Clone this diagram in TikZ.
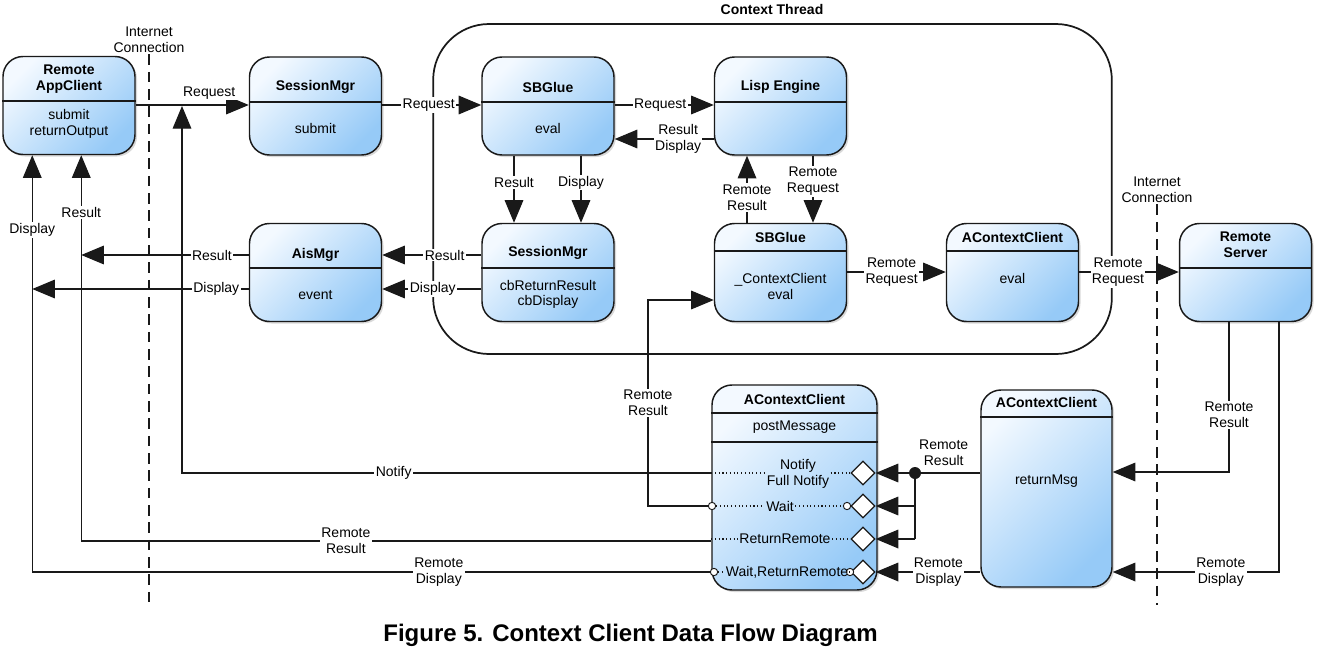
\documentclass[tikz,border=0pt]{standalone}
\usepackage{fontspec}
\setmainfont{Liberation Sans}
\usetikzlibrary{shapes.geometric, arrows.meta, positioning, calc, shadows}
\definecolor{boxlight}{RGB}{243,249,255}
\definecolor{boxdark}{RGB}{150,202,247}
\definecolor{edge}{RGB}{25,25,25}

\begin{document}
\begin{tikzpicture}[
  x=0.75pt, y=-0.75pt,
  block/.style={rectangle, draw=edge, line width=1.1pt, rounded corners=15pt, inner sep=0pt,
    minimum width=99pt, minimum height=73.5pt,
    top color=boxlight, bottom color=boxdark, shading angle=45,
    drop shadow={shadow xshift=1.5pt, shadow yshift=-1.5pt, opacity=0.3}},
  thread/.style={rectangle, draw=edge, line width=1.3pt, rounded corners=42pt,
    minimum width=509pt, minimum height=247.5pt, inner sep=0pt},
  title/.style={font=\fontsize{10.5}{12}\selectfont\bfseries, align=center, inner sep=0pt},
  body/.style={font=\fontsize{10.5}{11.5}\selectfont, align=center, inner sep=0pt},
  lbl/.style={font=\fontsize{10.5}{12}\selectfont, align=center, fill=white, inner sep=1pt},
  rowlbl/.style={font=\fontsize{10.5}{12}\selectfont, align=center, inner sep=1pt},
  netlbl/.style={font=\fontsize{10.5}{12}\selectfont, align=center, inner sep=1pt},
  caption/.style={font=\fontsize{18}{21}\selectfont\bfseries, inner sep=0pt},
  arrow/.style={draw=edge, line width=0.9pt, -{Triangle[length=17pt, width=14pt]}},
  line/.style={draw=edge, line width=0.9pt},
  divider/.style={draw=edge, line width=0.9pt},
  rowline/.style={draw=edge, line width=0.8pt, dash pattern=on 0.8pt off 2pt},
  netline/.style={draw=edge, line width=2pt, dash pattern=on 8pt off 5pt},
  gate/.style={diamond, draw=edge, fill=white, line width=1pt, minimum width=18pt, minimum height=18pt, inner sep=0pt},
  port/.style={circle, draw=edge, fill=white, line width=0.7pt, minimum size=5.5pt, inner sep=0pt},
  joint/.style={circle, fill=edge, minimum size=9pt, inner sep=0pt}
]
\useasboundingbox (0,0) rectangle (1320,650);

% context thread frame
\node[thread] (ctx) at (772.5,189) {};
\node[title] (ctxT) at (772,9) {Context Thread};

% internet connections
\node[netlbl] (net1) at (149,40) {Internet\\Connection};
\coordinate (net1end) at (149,605);
\draw[netline] (net1.south) -- (net1end);
\node[netlbl] (net2) at (1157,190) {Internet\\Connection};
\coordinate (net2end) at (1157,605);
\draw[netline] (net2.south) -- (net2end);

% boxes
\node[block] (app) at (69,105.5) {};
\node[block] (ses1) at (315.5,106) {};
\node[block] (sbg1) at (548,106) {};
\node[block] (lisp) at (780.5,106) {};
\node[block] (ais) at (315.5,272.5) {};
\node[block] (ses2) at (548,272.5) {};
\node[block] (sbg2) at (780.5,272.5) {};
\node[block] (acc1) at (1012.5,272.5) {};
\node[block] (server) at (1245.5,272.5) {};
\node[block, minimum width=123.75pt, minimum height=153.75pt] (post) at (794.5,487.5) {};
\node[block, minimum width=98.25pt, minimum height=147.75pt] (ret) at (1046.5,488.5) {};

\foreach \b/\y in {app/101, ses1/102, sbg1/102, lisp/102, ais/268, ses2/268, sbg2/251,
                   acc1/251, server/268, post/413, post/442, ret/417}
  \draw[divider] (\b.west |- 0,\y) -- (\b.east |- 0,\y);

\node[title] (appT) at (69,79) {Remote\\AppClient};
\node[body] (appB) at (69,124) {submit\\returnOutput};
\node[title] (ses1T) at (315.5,87) {SessionMgr};
\node[body] (ses1B) at (315.5,128) {submit};
\node[title] (sbg1T) at (548,87) {SBGlue};
\node[body] (sbg1B) at (548,128) {eval};
\node[title] (lispT) at (780.5,87) {Lisp Engine};
\node[title] (aisT) at (315.5,255) {AisMgr};
\node[body] (aisB) at (315.5,295) {event};
\node[title] (ses2T) at (548,253) {SessionMgr};
\node[body] (ses2B) at (548,294.5) {cbReturnResult\\cbDisplay};
\node[title] (sbg2T) at (780.5,237) {SBGlue};
\node[body] (sbg2B) at (780.5,286.5) {\_ContextClient\\eval};
\node[title] (acc1T) at (1012.5,237) {AContextClient};
\node[body] (acc1B) at (1012.5,278) {eval};
\node[title] (serverT) at (1245.5,245) {Remote\\Server};
\node[title] (postT) at (794.5,399) {AContextClient};
\node[body] (postB) at (794.5,427) {postMessage};
\node[title] (retT) at (1046.5,402) {AContextClient};
\node[body] (retB) at (1046.5,481) {returnMsg};

% postMessage rows
\foreach \g/\y in {d1/473, d2/506, d3/539, d4/572}
  \node[gate] (\g) at (863,\y) {};
\node[port] (pw) at (712,506) {};
\node[port] (pw2) at (847,506) {};
\node[port] (pwr) at (714,572) {};
\node[port] (pwr2) at (850,572) {};
\node[rowlbl] (tnot) at (798,474) {Notify\\Full Notify};
\node[rowlbl] (twait) at (780,506) {Wait};
\node[rowlbl] (tret) at (785,539) {ReturnRemote};
\node[rowlbl] (twr) at (787,572) {Wait,ReturnRemote};
\draw[rowline] (post.west |- d1) -- (tnot.west |- d1);
\draw[rowline] (tnot.east |- d1) -- (d1.west);
\draw[rowline] (pw) -- (twait.west);
\draw[rowline] (twait.east) -- (pw2);
\draw[rowline] (post.west |- d3) -- (tret.west);
\draw[rowline] (tret.east) -- (d3.west);
\draw[rowline] (pwr) -- (twr.west);
\draw[rowline] (twr.east) -- (pwr2);

% request path
\coordinate (reqjoin) at (182,106);
\draw[arrow] (app.east |- 0,105) -- node[lbl, above=3pt, pos=0.65]{Request} (ses1.west |- 0,105);
\draw[arrow] (ses1.east |- 0,105) -- node[lbl, pos=0.47]{Request} (sbg1.west |- 0,105);
\draw[arrow] (sbg1.east |- 0,105) -- node[lbl, pos=0.46]{Request} (lisp.west |- 0,105);
\draw[arrow] (lisp.west |- 0,139) -- node[lbl, pos=0.36]{Result\\Display} (sbg1.east |- 0,139);
\draw[arrow] (sbg1.south -| 514,0) -- node[lbl, pos=0.4]{Result} (ses2.north -| 514,0);
\draw[arrow] (sbg1.south -| 581,0) -- node[lbl, pos=0.4]{Display} (ses2.north -| 581,0);
\draw[arrow] (sbg2.north -| 747,0) -- node[lbl, pos=0.38]{Remote\\Result} (lisp.south -| 747,0);
\draw[arrow] (lisp.south -| 813,0) -- node[lbl, pos=0.38]{Remote\\Request} (sbg2.north -| 813,0);
\draw[arrow] (ses2.west |- 0,255) -- node[lbl, pos=0.37]{Result} (ais.east |- 0,255);
\draw[arrow] (ses2.west |- 0,289) -- node[lbl, pos=0.49]{Display} (ais.east |- 0,289);

% back to the client
\coordinate (appres) at ($(app.south west)+(79,0)$);
\coordinate (appdisp) at ($(app.south west)+(30,0)$);
\coordinate (aisres) at (appres |- 0,255);
\coordinate (aisdisp) at (appdisp |- 0,289);
\draw[arrow] (ais.west |- 0,255) -- node[lbl, pos=0.22]{Result} (aisres);
\draw[arrow] (ais.west |- 0,289) -- node[lbl, pos=0.15]{Display} (aisdisp);
\draw[arrow] (post.west |- d1) -| node[lbl, pos=0.3]{Notify} (reqjoin);
\draw[arrow] (post.west |- 0,541) -| node[lbl, pos=0.29]{Remote\\Result} node[lbl, pos=0.926]{Result} (appres);
\draw[arrow] (pwr) -| node[lbl, pos=0.2]{Remote\\Display} node[lbl, pos=0.91]{Display} (appdisp);

% remote side
\coordinate (rrbend) at (648,300);
\draw[arrow] (pw) -| node[lbl, pos=0.75]{Remote\\Result} (rrbend) -- (sbg2.west |- rrbend);
\draw[arrow] (sbg2.east |- 0,272) -- node[lbl, pos=0.45]{Remote\\Request} (acc1.west |- 0,272);
\draw[arrow] (acc1.east |- 0,272) -- node[lbl, pos=0.39]{Remote\\Request} (server.west |- 0,272);
\draw[arrow] (server.south -| 1229,0) |- node[lbl, pos=0.31]{Remote\\Result} (ret.east |- 0,472);
\draw[arrow] (server.south -| 1279,0) |- node[lbl, pos=0.675]{Remote\\Display} (ret.east |- 0,572);

% returnMsg into the gates
\node[joint] (dot) at (915,473) {};
\coordinate (jw) at (dot |- d2);
\coordinate (jr) at (dot |- d3);
\draw[line] (ret.west |- dot) -- node[lbl, above=4pt, pos=0.62]{Remote\\Result} (dot);
\draw[arrow] (dot) -- (d1);
\draw[line] (dot) -- (jr);
\draw[arrow] (jw) -- (d2);
\draw[arrow] (jr) -- (d3);
\draw[arrow] (ret.west |- d4) -- node[lbl, pos=0.4]{Remote\\Display} (d4);

\node[caption, anchor=base] (cap) at (630.5,641) {Figure 5. Context Client Data Flow Diagram};
\end{tikzpicture}
\end{document}
